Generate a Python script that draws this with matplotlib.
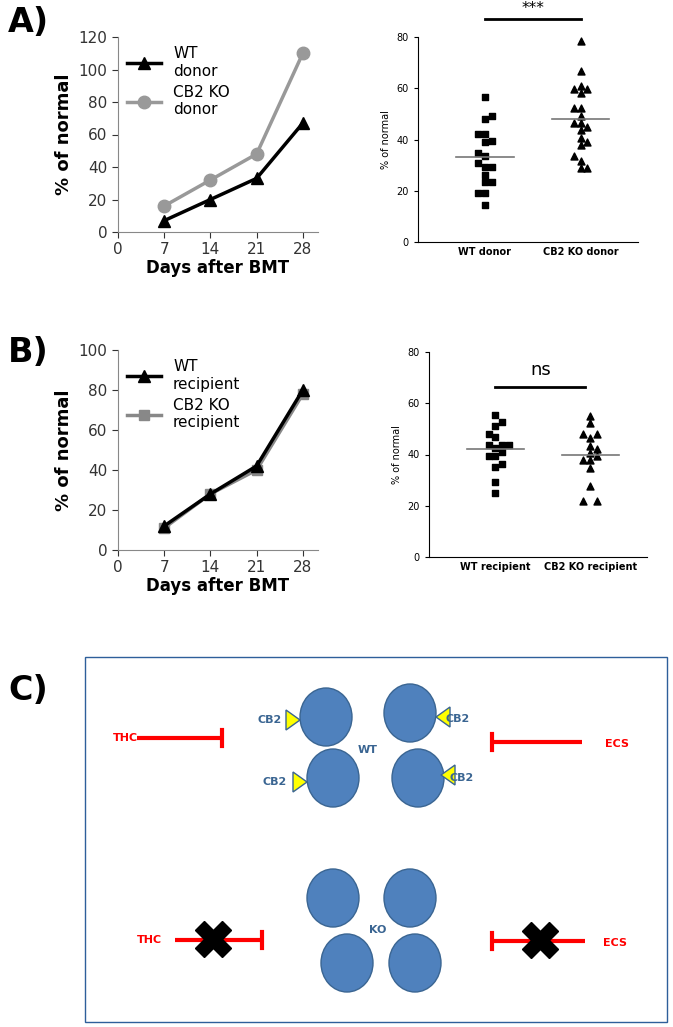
import matplotlib
matplotlib.use("Agg")
import matplotlib.pyplot as plt
from matplotlib.lines import Line2D
from matplotlib.patches import Ellipse, Polygon, Rectangle
import numpy as np

W, H = 673, 1027
days = [7, 14, 21, 28]
a_wt = [7, 20, 33, 67]
a_ko = [16, 32, 48, 110]
b_wt = [12, 28, 42, 80]
b_ko = [11, 28, 40, 78]

wt_donor = [56.6, 48, 49.3, 42.2, 42.2, 39, 39.5, 34.7, 33.4, 30.7, 29.4, 29.4, 26.3, 23.3, 23.3, 19, 19, 14.6]
wt_donor_dx = [0, 0, 1, -1, 0, 0, 1, -1, 0, -1, 0, 1, 0, 0, 1, -1, 0, 0]
ko_donor = [78.4, 66.7, 61, 59.7, 59.7, 58, 52.3, 52.3, 49.3, 46.4, 46.4, 44.9, 43.6, 40.7, 39, 37.7, 33.4, 31.7, 29, 29]
ko_donor_dx = [0, 0, 0, -1, 1, 0, -1, 0, 0, -1, 0, 1, 0, 0, 1, 0, -1, 0, 0, 1]
wt_rec = [55.4, 52.6, 51, 48, 46.7, 43.6, 42.4, 40.8, 43.6, 43.6, 39.3, 39.3, 36.3, 35, 29.1, 24.8]
wt_rec_dx = [0, 1, 0, -1, 0, -1, 0, 1, 2, 1, -1, 0, 1, 0, 0, 0]
ko_rec = [55.1, 52.3, 48, 48, 46.5, 43.4, 42.2, 40.6, 37.9, 37.9, 39.3, 34.7, 27.6, 21.7, 21.7]
ko_rec_dx = [0, 0, -1, 1, 0, 0, 1, 0, -1, 0, 1, 0, 0, -1, 1]
means = {"donor": (33.3, 48.0), "rec": (42.0, 39.8)}

fig = plt.figure(figsize=(W/100, H/100), dpi=100)

def ax_px(l, t, r, b):
    return fig.add_axes([l/W, 1-b/H, (r-l)/W, (b-t)/H])

def line_panel(ax, wt, ko, ymax, step, wtlab, kolab, kocol, komark):
    ax.plot(days, ko, color=kocol, marker=komark, ms=9 if komark == 'o' else 7, lw=2.5)
    ax.plot(days, wt, color='black', marker='^', ms=9, lw=2.5)
    ax.set_xlim(0, 30.3)
    ax.set_ylim(0, ymax)
    ax.set_xticks([0, 7, 14, 21, 28])
    ax.set_yticks(np.arange(0, ymax+1, step))
    ax.tick_params(labelsize=11, length=4, colors='#333333')
    for s in ['top', 'right']:
        ax.spines[s].set_visible(False)
    for s in ['left', 'bottom']:
        ax.spines[s].set_color('#888888')
    ax.set_ylabel('% of normal', fontsize=13, fontweight='bold')
    ax.set_xlabel('Days after BMT', fontsize=12, fontweight='bold', labelpad=1)
    h = [Line2D([], [], color='black', marker='^', ms=9, lw=2.5),
         Line2D([], [], color=kocol, marker=komark, ms=9 if komark == 'o' else 7, lw=2.5)]
    ax.legend(h, [wtlab, kolab], loc='upper left', frameon=False, fontsize=11,
              handlelength=2.2, borderaxespad=0.2, labelspacing=0.4)

def scatter_panel(ax, a, adx, b, bdx, m, labels, sig, sigy, bar):
    ax.scatter(1 + 0.07*np.array(adx), a, marker='s', s=22, color='black')
    ax.scatter(2 + 0.07*np.array(bdx), b, marker='^', s=25, color='black')
    ax.plot([0.7, 1.3], [m[0]]*2, color='#777777', lw=1.2)
    ax.plot([1.7, 2.3], [m[1]]*2, color='#777777', lw=1.2)
    ax.set_xlim(0.3, 2.6)
    ax.set_ylim(0, 80)
    ax.set_yticks([0, 20, 40, 60, 80])
    ax.set_xticks([1, 2])
    ax.set_xticklabels(labels, fontsize=7, fontweight='bold')
    ax.tick_params(axis='x', length=0)
    ax.tick_params(axis='y', labelsize=7, length=3)
    for s in ['top', 'right']:
        ax.spines[s].set_visible(False)
    ax.set_ylabel('% of normal', fontsize=7)
    ax.plot(bar, [sigy, sigy], color='black', lw=2, clip_on=False)
    ax.text(np.mean(bar), sigy + (1 if sig == '***' else 3), sig, ha='center', va='bottom',
            fontsize=11 if sig == '***' else 13)

ax1 = ax_px(118, 37, 318, 232)
line_panel(ax1, a_wt, a_ko, 120, 20, 'WT\ndonor', 'CB2 KO\ndonor', '#999999', 'o')
ax2 = ax_px(418, 37, 638, 242)
scatter_panel(ax2, wt_donor, wt_donor_dx, ko_donor, ko_donor_dx, means["donor"],
              ['WT donor', 'CB2 KO donor'], '***', 87, [1, 2])
ax3 = ax_px(118, 350, 318, 550)
line_panel(ax3, b_wt, b_ko, 100, 20, 'WT\nrecipient', 'CB2 KO\nrecipient', '#888888', 's')
ax4 = ax_px(429, 352, 647, 557)
scatter_panel(ax4, wt_rec, wt_rec_dx, ko_rec, ko_rec_dx, means["rec"],
              ['WT recipient', 'CB2 KO recipient'], 'ns', 66.5, [1, 1.95])

ov = fig.add_axes([0, 0, 1, 1])
ov.set_xlim(0, W); ov.set_ylim(H, 0); ov.axis('off')
for t, y in [('A)', 22), ('B)', 353), ('C)', 690)]:
    ov.text(8, y, t, fontsize=24, fontweight='bold', va='center', ha='left')
ov.add_patch(Rectangle((85, 657), 582, 365, fill=False, ec='#2e5f9a', lw=1))
blue = '#4f81bd'; edge = '#3a6592'
def cell(x, y):
    ov.add_patch(Ellipse((x, y), 52, 58, fc=blue, ec=edge, lw=1))
for x, y in [(326, 717), (410, 713), (333, 778), (418, 778), (333, 898), (410, 898), (347, 963), (415, 963)]:
    cell(x, y)
def tri(tx, y, side):
    if side == 'L':
        pts = [(tx, y), (tx - 14, y - 10), (tx - 14, y + 10)]
    else:
        pts = [(tx, y), (tx + 14, y - 10), (tx + 14, y + 10)]
    ov.add_patch(Polygon(pts, fc='#ffff00', ec='#3a6592', lw=1))
tri(300, 720, 'L'); ov.text(270, 720, 'CB2', color=edge, fontsize=8, fontweight='bold', ha='center', va='center')
tri(436, 717, 'R'); ov.text(458, 719, 'CB2', color=edge, fontsize=8, fontweight='bold', ha='center', va='center')
tri(307, 782, 'L'); ov.text(275, 782, 'CB2', color=edge, fontsize=8, fontweight='bold', ha='center', va='center')
tri(441, 775, 'R'); ov.text(462, 778, 'CB2', color=edge, fontsize=8, fontweight='bold', ha='center', va='center')
ov.text(368, 750, 'WT', color=edge, fontsize=8, fontweight='bold', ha='center', va='center')
ov.text(378, 930, 'KO', color=edge, fontsize=8, fontweight='bold', ha='center', va='center')
red = '#ff0000'
def inhib(x0, x1, y):
    ov.plot([x0, x1], [y, y], color=red, lw=3, solid_capstyle='butt')
    ov.plot([x1, x1], [y - 8, y + 8], color=red, lw=3)
inhib(137, 222, 738); ov.text(138, 738, 'THC', color=red, fontsize=8, fontweight='bold', ha='right', va='center')
inhib(582, 492, 742); ov.text(605, 744, 'ECS', color=red, fontsize=8, fontweight='bold', ha='left', va='center')
inhib(175, 262, 940); ov.text(162, 940, 'THC', color=red, fontsize=8, fontweight='bold', ha='right', va='center')
inhib(585, 492, 941); ov.text(603, 943, 'ECS', color=red, fontsize=8, fontweight='bold', ha='left', va='center')
for x, y in [(213, 939), (540, 940)]:
    ov.plot(x, y, marker='X', ms=26, color='black', mec='black')

fig.savefig('out.png', dpi=100)
